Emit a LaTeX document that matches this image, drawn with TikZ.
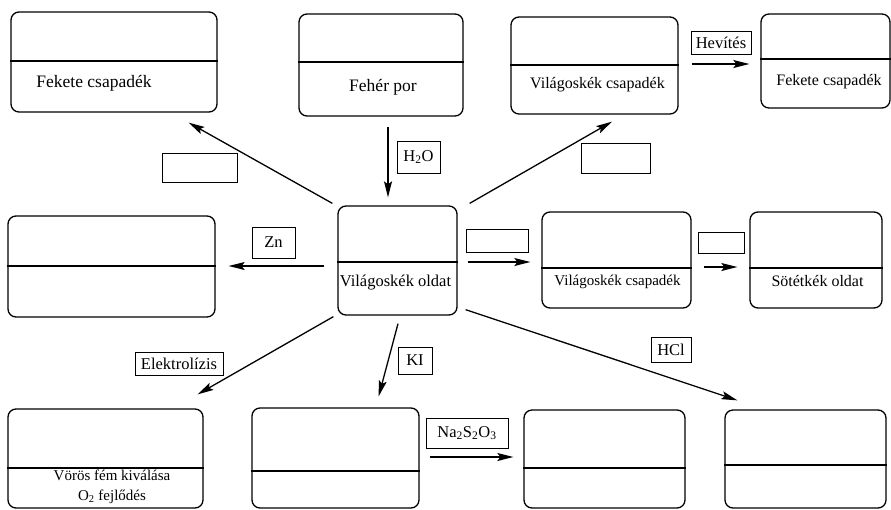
\documentclass[tikz,border=0pt]{standalone}
\usepackage{fontspec}
\setmainfont{Liberation Serif}
\usetikzlibrary{arrows.meta,calc}
\tikzset{
  chembox/.style={draw, line width=1.3pt, rounded corners=8pt, inner sep=0pt},
  boxtext/.style={font=\fontsize{16}{20}\selectfont, inner sep=0pt, align=center},
  lbl/.style={draw, line width=1pt, inner sep=0pt, font=\fontsize{16.5}{19}\selectfont},
  divider/.style={line width=1.5pt},
  arr/.style={line width=1.3pt, -{Stealth[length=16pt, width=8pt, inset=3pt]}}
}

\begin{document}
\begin{tikzpicture}[x=1pt, y=-1pt]
            \useasboundingbox (0,0) rectangle (891,509);
            \node[chembox, minimum width=206pt, minimum height=100pt] (A) at (114,62) {};
            \node[chembox, minimum width=164pt, minimum height=102pt] (B) at (381,65) {};
            \node[chembox, minimum width=119pt, minimum height=109pt] (C) at (397.5,260.5) {};
            \node[chembox, minimum width=167pt, minimum height=97pt] (D) at (594.5,65.5) {};
            \node[chembox, minimum width=129pt, minimum height=94pt] (E) at (825.5,61) {};
            \node[chembox, minimum width=149pt, minimum height=96pt] (F) at (616.5,260) {};
            \node[chembox, minimum width=132pt, minimum height=96pt] (G) at (816,260) {};
            \node[chembox, minimum width=207pt, minimum height=101pt] (H) at (111.5,266.5) {};
            \node[chembox, minimum width=195pt, minimum height=99pt] (I) at (105.5,458.5) {};
            \node[chembox, minimum width=167pt, minimum height=100pt] (J) at (335.5,458) {};
            \node[chembox, minimum width=161pt, minimum height=98pt] (K) at (604.5,459) {};
            \node[chembox, minimum width=161pt, minimum height=98pt] (L) at (805.5,459) {};
            \foreach \n/\d in {A/61, B/62, C/262, D/65, E/59, F/268, G/268, H/266, I/468, J/471, K/468, L/465}
              \draw[divider] (\n.west |- 0,\d) -- (\n.east |- 0,\d);

            \node[boxtext, font=\fontsize{17.5}{20}\selectfont] (At) at (94,83) {Fekete csapadék};
            \node[boxtext, font=\fontsize{17.5}{20}\selectfont] (Bt) at (383,87) {Fehér por};
            \node[boxtext, font=\fontsize{16.5}{20}\selectfont] (Ct) at (395.5,283) {Világoskék oldat};
            \node[boxtext] (Dt) at (597.5,85) {Világoskék csapadék};
            \node[boxtext] (Et) at (829,82) {Fekete csapadék};
            \node[boxtext, font=\fontsize{15}{20}\selectfont] (Ft) at (617.5,282) {Világoskék csapadék};
            \node[boxtext] (Gt) at (817.5,281) {Sötétkék oldat};
            \node[boxtext, font=\fontsize{15}{20}\selectfont] (It) at (112,487) {Vörös fém kiválása\\O\textsubscript{2} fejlődés};

            \node[lbl, minimum width=75pt, minimum height=29pt] (lA) at (199.5,167.5) {};
            \node[lbl, minimum width=43pt, minimum height=32pt] (lB) at (418.5,157) {H\textsubscript{2}O};
            \node[lbl, minimum width=69pt, minimum height=30pt] (lD) at (615.5,158) {};
            \node[lbl, minimum width=60pt, minimum height=23pt] (lE) at (721,42.5) {Hevítés};
            \node[lbl, minimum width=62pt, minimum height=23pt] (lF) at (497,240.5) {};
            \node[lbl, minimum width=46pt, minimum height=21pt] (lG) at (721,242.5) {};
            \node[lbl, minimum width=43pt, minimum height=31pt] (lH) at (273.5,242.5) {Zn};
            \node[lbl, minimum width=88pt, minimum height=23pt] (lI) at (179,363.5) {Elektrolízis};
            \node[lbl, minimum width=34pt, minimum height=27pt] (lJ) at (415,360.5) {KI};
            \node[lbl, minimum width=82pt, minimum height=30pt] (lK) at (467,433) {Na\textsubscript{2}S\textsubscript{2}O\textsubscript{3}};
            \node[lbl, minimum width=40pt, minimum height=25pt] (lL) at (671,349.5) {HCl};

            \coordinate (h2oS) at ($(B.south)+(7,10)$);
            \coordinate (hevS) at ($(D.east)+(13,-1.5)$);
            \coordinate (cfS) at ($(C.east)+(10,1.5)$);
            \coordinate (fgS) at ($(F.east)+(12,7)$);
            \coordinate (znS) at ($(C.west)+(-13,5.5)$);
            \coordinate (naS) at ($(J.east)+(10,-1)$);
            \draw[arr] ($(C.north west)+(-5,-2)$) -- ($(A.south east)+(-29,10)$);
            \draw[arr] (h2oS) -- ($(h2oS |- C.north)+(0,-8)$);
            \draw[arr] ($(C.north east)+(12,-2)$) -- ($(D.south)+(17.5,7)$);
            \draw[arr] (hevS) -- ($(E.west |- hevS)+(-11,0)$);
            \draw[arr] (cfS) -- ($(F.west |- cfS)+(-11,0)$);
            \draw[arr] (fgS) -- ($(G.west |- fgS)+(-12,0)$);
            \draw[arr] (znS) -- ($(H.east |- znS)+(13,0)$);
            \draw[arr] ($(C.south west)+(-4,1)$) -- ($(I.north east)+(-6,-14)$);
            \draw[arr] ($(C.south)+(0.5,8)$) -- ($(J.north east)+(-41,-11)$);
            \draw[arr] ($(C.south east)+(8,-6)$) -- ($(L.north west)+(13,-9)$);
            \draw[arr] (naS) -- ($(K.west |- naS)+(-10,0)$);
        \end{tikzpicture}
\end{document}
